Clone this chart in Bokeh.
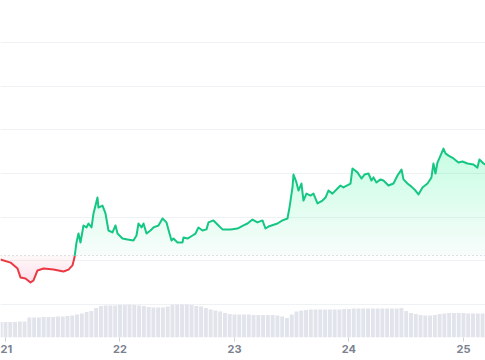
import numpy as np
from bokeh.plotting import figure
from bokeh.models import Range1d, FixedTicker, Span
from bokeh.embed import file_html
from bokeh.resources import INLINE

# ---- data (hours since day 21 00:00, price in USD) ----
hours = [-1.05, 1.05, 2.52, 3.14, 4.19, 5.24, 5.87, 6.71, 7.97, 10.06, 12.16, 13.21, 14.04, 14.46,
         14.88, 15.30, 15.72, 16.35, 16.98, 17.40, 18.03, 18.45, 19.28, 19.49, 20.33, 20.96, 21.59,
         22.43, 23.06, 23.48, 24.52, 25.57, 26.83, 27.46, 27.88, 28.51, 28.93, 29.56, 30.39, 31.02,
         32.07, 32.91, 33.75, 34.38, 34.80, 35.21, 36.05, 37.10, 37.31, 38.15, 39.20, 39.83, 40.45,
         41.29, 42.13, 42.55, 43.60, 44.65, 45.48, 47.16, 48.63, 49.89, 50.73, 51.77, 52.82, 53.87,
         54.50, 55.13, 57.01, 58.06, 59.11, 59.53, 60.16, 60.37, 60.99, 61.41, 62.04, 62.46, 63.09,
         63.93, 64.56, 65.40, 66.45, 67.08, 67.70, 68.54, 69.59, 70.22, 70.85, 72.32, 72.74, 73.78,
         74.62, 75.25, 76.09, 76.72, 77.14, 77.76, 78.60, 79.23, 80.28, 81.33, 82.17, 83.01, 83.43,
         84.26, 85.10, 85.94, 86.57, 87.41, 88.46, 89.29, 89.71, 90.13, 90.55, 91.39, 91.81, 92.23,
         92.86, 93.91, 94.95, 95.79, 96.84, 98.09, 98.93, 99.35, 100.19, 100.61]
prices = [0.6006, 0.5992, 0.5965, 0.5924, 0.5919, 0.5901, 0.5910, 0.5956, 0.5965, 0.5960, 0.5951,
          0.5960, 0.5979, 0.6015, 0.6084, 0.6125, 0.6084, 0.6162, 0.6153, 0.6171, 0.6153, 0.6217,
          0.6290, 0.6244, 0.6253, 0.6217, 0.6139, 0.6130, 0.6162, 0.6125, 0.6102, 0.6098, 0.6093,
          0.6116, 0.6171, 0.6153, 0.6171, 0.6125, 0.6139, 0.6153, 0.6162, 0.6194, 0.6176, 0.6125,
          0.6093, 0.6102, 0.6084, 0.6084, 0.6107, 0.6102, 0.6116, 0.6125, 0.6153, 0.6139, 0.6144,
          0.6176, 0.6185, 0.6162, 0.6144, 0.6144, 0.6148, 0.6162, 0.6171, 0.6189, 0.6176, 0.6185,
          0.6148, 0.6157, 0.6171, 0.6185, 0.6194, 0.6244, 0.6336, 0.6395, 0.6359, 0.6322, 0.6354,
          0.6276, 0.6308, 0.6299, 0.6308, 0.6263, 0.6276, 0.6290, 0.6322, 0.6308, 0.6331, 0.6345,
          0.6336, 0.6354, 0.6423, 0.6405, 0.6377, 0.6395, 0.6400, 0.6368, 0.6382, 0.6359, 0.6373,
          0.6368, 0.6345, 0.6354, 0.6391, 0.6418, 0.6373, 0.6354, 0.6340, 0.6322, 0.6304, 0.6336,
          0.6354, 0.6382, 0.6446, 0.6400, 0.6450, 0.6492, 0.6514, 0.6492, 0.6482, 0.6469, 0.6450,
          0.6455, 0.6446, 0.6441, 0.6427, 0.6464, 0.6446, 0.6441]
baseline_price = 0.6024

vol_hours = list(range(-1, 102))
volumes = [4.65, 4.65, 4.65, 4.65, 4.8, 4.8, 6.0, 6.0, 6.0, 6.15, 6.15, 6.15, 6.3, 6.3, 6.45, 6.6,
           6.9, 7.2, 7.65, 7.95, 8.85, 9.45, 9.6, 9.6, 9.6, 9.75, 9.75, 9.9, 9.75, 9.6, 9.45, 9.15,
           9.0, 9.0, 9.0, 9.3, 9.9, 9.9, 9.9, 9.9, 9.75, 9.45, 9.3, 8.85, 8.4, 8.1, 7.8, 7.35, 7.05,
           6.9, 6.9, 6.9, 6.9, 6.75, 6.75, 6.75, 6.75, 6.75, 6.6, 6.3, 5.85, 6.9, 7.8, 8.1, 8.25, 8.4,
           8.4, 8.4, 8.4, 8.4, 8.4, 8.4, 8.55, 8.55, 8.7, 8.7, 8.7, 8.7, 8.7, 8.7, 8.7, 8.7, 8.7, 8.7,
           8.85, 7.95, 7.35, 7.05, 6.75, 6.6, 6.6, 6.75, 7.05, 7.2, 7.35, 7.35, 7.35, 7.35, 7.2, 7.2,
           7.2, 7.2, 7.2]

day_ticks = [0, 24, 48, 72, 96]
day_labels = ["21", "22", "23", "24", "25"]
grid_prices = [0.58, 0.60, 0.62, 0.64, 0.66, 0.68, 0.70]

GREEN = "#16c784"
RED = "#ea3943"

# ---- split line at baseline crossings ----
h = np.array(hours, dtype=float)
pr = np.array(prices, dtype=float)
xs, ys = [h[0]], [pr[0]]
for i in range(1, len(h)):
    a, b = pr[i - 1] - baseline_price, pr[i] - baseline_price
    if a * b < 0:
        t = a / (a - b)
        xs.append(h[i - 1] + t * (h[i] - h[i - 1]))
        ys.append(baseline_price)
    xs.append(h[i])
    ys.append(pr[i])
xs, ys = np.array(xs), np.array(ys)

p = figure(width=485, height=360, output_backend="svg", toolbar_location=None,
           x_range=Range1d(-1.048, 100.62), y_range=Range1d(0.56489, 0.71923),
           y_axis_location=None, min_border_left=0, min_border_right=0,
           min_border_top=0, min_border_bottom=23, background_fill_color="white",
           border_fill_color="white")
p.outline_line_color = None

# volume
p.extra_y_ranges = {"vol": Range1d(0, 101.1)}
p.vbar(x=vol_hours, top=volumes, width=0.82, y_range_name="vol",
       fill_color="#e2e4ec", line_color=None)

# gradient fills (stacked translucent layers)
xf = np.linspace(h[0], h[-1], 3000)
pf = np.interp(xf, xs, ys)
top_level, bot_level = 0.652, 0.590
p.varea(x=xf, y1=baseline_price, y2=np.maximum(pf, baseline_price), fill_color=GREEN, fill_alpha=0.035)
for L in np.linspace(baseline_price, top_level, 26)[1:]:
    p.varea(x=xf, y1=L, y2=np.maximum(pf, L), fill_color=GREEN, fill_alpha=0.0075)
p.varea(x=xf, y1=np.minimum(pf, baseline_price), y2=baseline_price, fill_color=RED, fill_alpha=0.035)
for L in np.linspace(baseline_price, bot_level, 14)[1:]:
    p.varea(x=xf, y1=np.minimum(pf, L), y2=L, fill_color=RED, fill_alpha=0.008)

# baseline
p.add_layout(Span(location=baseline_price, dimension="width", line_color="#b9bec7",
                  line_dash="1 3", line_width=1))

# price line (red below baseline, green above)
red_mask = ys <= baseline_price + 1e-9
gx, gy = np.where(red_mask & (ys < baseline_price), np.nan, xs), np.where(red_mask & (ys < baseline_price), np.nan, ys)
rx, ry = np.where(ys > baseline_price, np.nan, xs), np.where(ys > baseline_price, np.nan, ys)
p.line(rx, ry, line_color=RED, line_width=2, line_join="round")
p.line(gx, gy, line_color=GREEN, line_width=2, line_join="round")

# grid
p.xgrid.grid_line_color = None
p.ygrid.ticker = FixedTicker(ticks=grid_prices)
p.ygrid.grid_line_color = "#eff2f5"
p.ygrid.grid_line_width = 1

# x axis
ax = p.xaxis[0]
ax.ticker = FixedTicker(ticks=day_ticks)
ax.major_label_overrides = {t: l for t, l in zip(day_ticks, day_labels)}
ax.axis_line_color = None
ax.major_tick_line_color = "#cdd1d8"
ax.major_tick_out = 4
ax.major_tick_in = 0
ax.minor_tick_line_color = None
ax.major_label_standoff = 3
ax.major_label_text_font = "Inter"
ax.major_label_text_font_size = "11px"
ax.major_label_text_font_style = "bold"
ax.major_label_text_color = "#7b8290"

open("out.html", "w").write(file_html(p, INLINE))
